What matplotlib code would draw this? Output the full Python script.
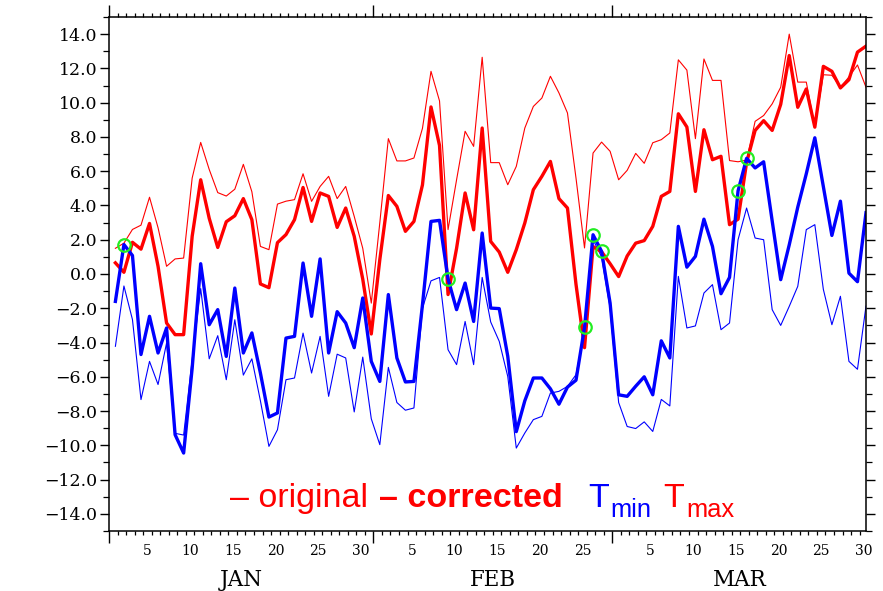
import matplotlib
matplotlib.use("Agg")
import matplotlib.pyplot as plt
import matplotlib.transforms as mtransforms
from matplotlib.ticker import FixedLocator, FuncFormatter
import numpy as np

# daily values, Jan 1 .. Mar 30 (plotted at 18:00 of each day)
tmax_orig = [1.5, 1.8, 2.6, 2.85, 4.48, 2.7, 0.45, 0.88, 0.93, 5.6,
             7.68, 6.1, 4.75, 4.55, 4.95, 6.4, 4.8, 1.61, 1.42, 4.08,
             4.25, 4.34, 5.85, 4.24, 5.11, 5.7, 4.4, 5.11, 3.36, 1.5,
             -1.7, 3.0, 7.9, 6.6, 6.6, 6.77, 8.5, 11.83, 10.1, 2.59,
             5.5, 8.33, 7.45, 12.65, 6.5, 6.5, 5.21, 6.28, 8.52, 9.78,
             10.27, 11.54, 10.57, 9.4, 5.6, 1.52, 7.06, 7.7, 7.16, 5.5,
             6.05, 7.04, 6.46, 7.66, 7.84, 8.23, 12.5, 11.9, 7.9, 12.55,
             11.3, 11.3, 6.62, 6.55, 6.65, 8.91, 9.25, 9.93, 10.9, 14.0,
             11.2, 11.2, 8.57, 11.63, 11.6, 10.9, 11.5, 12.2, 10.9]
tmax_corr = [0.65, 0.1, 1.85, 1.45, 2.95, 0.45, -2.86, -3.54, -3.54, 2.2,
             5.5, 3.25, 1.55, 3.05, 3.4, 4.4, 3.17, -0.58, -0.8, 1.83,
             2.3, 3.17, 5.05, 3.07, 4.73, 4.53, 2.72, 3.85, 2.2, -0.3,
             -3.5, 0.84, 4.58, 3.95, 2.49, 3.07, 5.2, 9.75, 7.5, -1.2,
             1.5, 4.73, 2.58, 8.52, 1.9, 1.28, 0.1, 1.42, 2.98, 4.92,
             5.7, 6.57, 4.4, 3.85, -0.6, -4.3, 1.6, 1.3, 0.6, -0.15,
             1.05, 1.8, 1.95, 2.78, 4.53, 4.82, 9.35, 8.58, 4.82, 8.42,
             6.67, 6.87, 2.88, 3.2, 6.5, 8.38, 8.95, 8.38, 9.9, 12.75,
             9.73, 10.8, 8.57, 12.12, 11.83, 10.86, 11.34, 12.95, 13.3]
tmin_orig = [-4.22, -0.7, -2.66, -7.33, -5.1, -6.45, -4.03, -9.3, -9.4, -5.0,
             -0.85, -4.95, -3.6, -6.17, -2.67, -5.9, -4.95, -7.4, -10.06, -9.09,
             -6.17, -6.07, -3.45, -5.78, -3.64, -7.14, -4.68, -4.9, -8.05, -4.85,
             -8.45, -9.96, -5.45, -7.5, -7.95, -7.82, -2.0, -0.4, -0.2, -4.42,
             -5.29, -2.77, -5.29, -0.2, -2.8, -3.93, -5.98, -10.16, -9.28, -8.5,
             -8.31, -6.95, -6.85, -6.56, -5.88, -3.3, 2.0, 1.0, -2.0, -7.5,
             -8.9, -9.02, -8.63, -9.19, -7.32, -7.7, -0.14, -3.15, -3.03, -1.11,
             -0.62, -3.25, -2.86, 2.0, 3.85, 2.1, 2.0, -2.08, -3.0, -1.89,
             -0.72, 2.59, 2.88, -0.9, -2.96, -1.3, -5.1, -5.56, -1.87]
tmin_corr = [-1.6, 1.72, 1.08, -4.7, -2.47, -4.61, -3.15, -9.38, -10.45, -5.5,
             0.6, -2.96, -2.08, -4.81, -0.82, -4.61, -3.44, -5.78, -8.35, -8.11,
             -3.74, -3.64, 0.64, -2.47, 0.88, -4.61, -2.2, -2.86, -4.3, -1.4,
             -5.1, -6.27, -1.2, -4.9, -6.3, -6.27, -1.8, 3.07, 3.13, -0.29,
             -2.08, -0.53, -2.77, 2.39, -1.99, -2.02, -4.8, -9.2, -7.4, -6.07,
             -6.07, -6.7, -7.6, -6.6, -6.2, -3.12, 2.29, 1.32, -1.7, -7.05,
             -7.14, -6.55, -6.0, -7.05, -3.9, -4.9, 2.78, 0.4, 1.03, 3.2,
             1.61, -1.15, -0.2, 4.85, 6.75, 6.19, 6.55, 3.1, -0.33, 1.7,
             3.9, 5.85, 7.95, 5.1, 2.25, 4.25, 0.05, -0.45, 3.58]
flagged = [1, 39, 55, 56, 57, 73, 74]   # days marked with green circles

months = ["JAN", "FEB", "MAR"]
month_start = [0, 31, 59]
month_len = [31, 28, 30]
day_labels = {"JAN": [5, 10, 15, 20, 25, 30], "FEB": [5, 10, 15, 20, 25],
              "MAR": [5, 10, 15, 20, 25, 30]}

t = np.arange(len(tmax_orig)) + 0.75

fig = plt.figure(figsize=(8.83, 5.91), dpi=100)
ax = fig.add_axes([109/883, 1-531/591, 757/883, 514/591])

ax.plot(t, tmax_orig, color="red", lw=0.8)
ax.plot(t, tmin_orig, color="blue", lw=0.8)
ax.plot(t, tmax_corr, color="red", lw=2.4)
ax.plot(t, tmin_corr, color="blue", lw=2.4)
ax.plot(t[flagged], np.array(tmin_corr)[flagged], "o", ms=9, mfc="none",
        mec="#22ee22", mew=1.6)

ax.set_xlim(0, 88.75)
ax.set_ylim(-15, 15)

# x ticks: daily minor, month starts major (no tick labels, text drawn below)
ax.xaxis.set_major_locator(FixedLocator(month_start))
ax.xaxis.set_minor_locator(FixedLocator(np.arange(0, 89)))
ax.set_xticklabels([])
ax.tick_params(axis="x", which="major", direction="out", length=8.5, width=1,
               top=True, bottom=True)
ax.tick_params(axis="x", which="minor", direction="out", length=3.2, width=0.9,
               top=True, bottom=True)

ax.yaxis.set_major_locator(FixedLocator(np.arange(-14, 15, 2)))
ax.yaxis.set_minor_locator(FixedLocator(np.arange(-15, 16, 1)))
ax.yaxis.set_major_formatter(FuncFormatter(lambda v, p: f"{v:.1f}".replace("-", "\u2212")))
ax.tick_params(axis="y", which="major", direction="out", length=6.5, width=1,
               left=True, right=True, labelsize=12.5, pad=2)
ax.tick_params(axis="y", which="minor", direction="out", length=4, width=0.9,
               left=True, right=True)
for lab in ax.get_yticklabels():
    lab.set_fontfamily("DejaVu Serif")

for s in ax.spines.values():
    s.set_linewidth(1.1)

trans = mtransforms.blended_transform_factory(ax.transData, ax.transAxes)
for m, start, n in zip(months, month_start, month_len):
    for d in day_labels[m]:
        ax.text(start + d - 0.5, -0.039, str(d), transform=trans, ha="center",
                va="center", fontsize=10, family="DejaVu Serif")
    ax.text(start + n / 2, -0.096, m, transform=trans, ha="center",
            va="center", fontsize=15.5, family="DejaVu Serif")

# legend-like label line inside the plot
def px(x, y):
    return x / 883, 1 - y / 591

fam = "Liberation Sans"
fs = 24.5
fig.text(*px(230, 507), "\u2013 original", color="red", fontsize=fs,
         family=fam, va="baseline")
fig.text(*px(379, 507), "\u2013 corrected", color="red", fontsize=fs,
         family=fam, weight="bold", va="baseline")
fig.text(*px(588, 507), "T", color="blue", fontsize=fs,
         family=fam, va="baseline")
fig.text(*px(610, 517), "min", color="blue", fontsize=fs*0.75,
         family=fam, va="baseline")
fig.text(*px(663, 507), "T", color="red", fontsize=fs,
         family=fam, va="baseline")
fig.text(*px(686, 517), "max", color="red", fontsize=fs*0.75,
         family=fam, va="baseline")

fig.savefig("out.png", dpi=100)
